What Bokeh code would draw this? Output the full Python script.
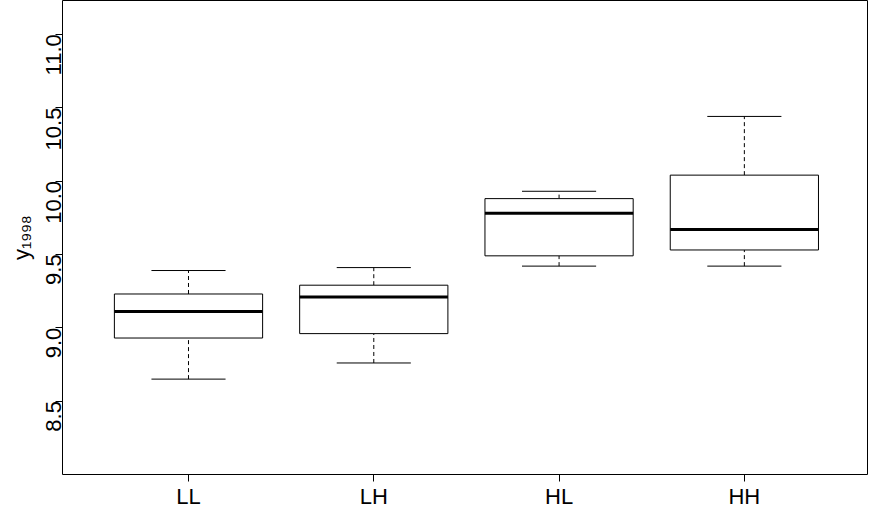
import math
from bokeh.plotting import figure
from bokeh.models import Range1d, FixedTicker, ColumnDataSource
from bokeh.embed import file_html
from bokeh.resources import INLINE

groups = ["LL", "LH", "HL", "HH"]
lower = [8.65, 8.76, 9.42, 9.42]
q1 = [8.93, 8.96, 9.49, 9.53]
median = [9.11, 9.21, 9.78, 9.67]
q3 = [9.23, 9.29, 9.88, 10.04]
upper = [9.39, 9.41, 9.93, 10.44]
yticks = [8.5, 9.0, 9.5, 10.0, 10.5, 11.0]

pos = list(range(1, len(groups) + 1))
src = ColumnDataSource(dict(x=pos, lower=lower, q1=q1, med=median, q3=q3, upper=upper,
                            xl=[p - 0.4 for p in pos], xr=[p + 0.4 for p in pos],
                            cl=[p - 0.2 for p in pos], cr=[p + 0.2 for p in pos]))

p = figure(frame_width=806, frame_height=474, output_backend="svg", toolbar_location=None,
           x_range=Range1d(0.32, 4.67), y_range=Range1d(8.0, 11.23),
           min_border_left=62, min_border_right=0, min_border_top=0, min_border_bottom=0)
p.grid.visible = False
p.outline_line_color = "black"
p.outline_line_width = 1

# whiskers (dashed) and caps
p.segment("x", "q3", "x", "upper", source=src, line_color="black", line_dash="4 3")
p.segment("x", "lower", "x", "q1", source=src, line_color="black", line_dash="4 3")
p.segment("cl", "upper", "cr", "upper", source=src, line_color="black")
p.segment("cl", "lower", "cr", "lower", source=src, line_color="black")
# boxes
p.quad(left="xl", right="xr", bottom="q1", top="q3", source=src,
       fill_color="white", line_color="black")
p.segment("xl", "med", "xr", "med", source=src, line_color="black", line_width=3)

font = "Liberation Sans"
p.xaxis.ticker = FixedTicker(ticks=pos)
p.xaxis.major_label_overrides = {i: g for i, g in zip(pos, groups)}
p.yaxis.ticker = FixedTicker(ticks=yticks)
p.yaxis.major_label_overrides = {v: f"{v:.1f}" for v in yticks}
p.yaxis.major_label_orientation = math.pi / 2
p.yaxis.axis_label = "y₁₉₉₈"
for ax in (p.xaxis, p.yaxis):
    ax.axis_line_color = None
    ax.major_label_text_font = font
    ax.major_label_text_font_size = "22px"
    ax.major_label_text_color = "black"
    ax.major_label_standoff = 2
    ax.major_tick_out = 7
    ax.major_tick_in = 0
    ax.minor_tick_line_color = None
    ax.major_tick_line_color = "black"
p.yaxis.axis_label_text_font = font
p.yaxis.axis_label_text_font_size = "22px"
p.yaxis.axis_label_text_font_style = "normal"
p.yaxis.axis_label_text_color = "black"
p.yaxis.axis_label_standoff = 2

open("out.html", "w").write(file_html(p, INLINE))
